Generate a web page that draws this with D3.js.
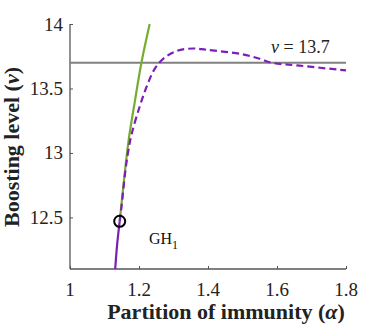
<!DOCTYPE html>
<html><head><meta charset="utf-8">
<script src="https://cdn.jsdelivr.net/npm/d3@7"></script>
<style>body{margin:0;background:#fff}svg{display:block}</style>
</head><body><svg id="c" width="383" height="326"></svg>
<script>
const xTicks=[1,1.2,1.4,1.6,1.8];
const yTicks=[12.5,13,13.5,14];
const greenAlpha=[1.144,1.157,1.170,1.188,1.207,1.231];
const greenNu=[12.47,12.8,13.1,13.4,13.7,14.0];
const solidAlpha=[1.131,1.137,1.144];
const solidNu=[12.1,12.3,12.47];
const dashAlpha=[1.144,1.150,1.160,1.168,1.178,1.202,1.223,1.245,1.270,1.308,1.356,1.395,1.5,1.55,1.584,1.666,1.8];
const dashNu=[12.47,12.6,12.85,13.0,13.14,13.36,13.52,13.65,13.73,13.79,13.81,13.80,13.765,13.73,13.70,13.677,13.64];
const refNu=13.7;
const ghPoint=[1.144,12.47];

const SERIF='"Liberation Serif","Times New Roman",serif';
const svg=d3.select("#c");
const x=d3.scaleLinear().domain([1,1.8]).range([70,346]);
const y=d3.scaleLinear().domain([12.1,14]).range([269,24]);
const axisCol="#555";

const xa=svg.append("g").attr("transform","translate(0,269)")
 .call(d3.axisBottom(x).tickValues(xTicks).tickFormat(()=>"").tickSizeInner(-3).tickSizeOuter(0));
const ya=svg.append("g").attr("transform","translate(70,0)")
 .call(d3.axisLeft(y).tickValues(yTicks).tickFormat(()=>"").tickSizeInner(-3).tickSizeOuter(0));
[xa,ya].forEach(g=>{g.select(".domain").attr("stroke",axisCol).attr("stroke-width",1.3);
 g.selectAll(".tick line").attr("stroke",axisCol);
 g.selectAll(".tick text").remove();});
ya.select(".domain").attr("d","M0,24V269");
xa.select(".domain").attr("d","M70,0H346");

const fmt=d3.format("");
svg.selectAll("text.xt").data(xTicks).enter().append("text").attr("class","xt")
 .attr("x",d=>x(d)).attr("y",296).attr("text-anchor","middle")
 .style("font-size","19px").style("font-family",SERIF).attr("fill","#222").text(d=>fmt(d));
svg.selectAll("text.yt").data(yTicks).enter().append("text").attr("class","yt")
 .attr("x",63).attr("y",d=>y(d)+6.5).attr("text-anchor","end")
 .style("font-size","19px").style("font-family",SERIF).attr("fill","#222").text(d=>fmt(d));

svg.append("line").attr("x1",x(1)).attr("x2",x(1.8)).attr("y1",y(refNu)).attr("y2",y(refNu))
 .attr("stroke","#808080").attr("stroke-width",2);

const zip=(a,b)=>a.map((v,i)=>[v,b[i]]);
const line=d3.line().x(d=>x(d[0])).y(d=>y(d[1])).curve(d3.curveCatmullRom);
svg.append("path").attr("d",line(zip(greenAlpha,greenNu))).attr("fill","none").attr("stroke","#77AC30").attr("stroke-width",2.2);
svg.append("path").attr("d",line(zip(solidAlpha,solidNu))).attr("fill","none").attr("stroke","#7B1FB8").attr("stroke-width",2.2);
svg.append("path").attr("d",line(zip(dashAlpha,dashNu)))
 .attr("fill","none").attr("stroke","#7B1FB8").attr("stroke-width",2.2).attr("stroke-dasharray","7,4");
svg.append("circle").attr("cx",x(ghPoint[0])).attr("cy",y(ghPoint[1])).attr("r",5.5)
 .attr("fill","none").attr("stroke","#000").attr("stroke-width",2);

const lab=svg.append("text").attr("x",271).attr("y",53).style("font-size","18px").style("font-family",SERIF).attr("fill","#222");
lab.append("tspan").style("font-style","italic").text("ν");
lab.append("tspan").text(" = 13.7");
const gh=svg.append("text").attr("x",149).attr("y",244).style("font-size","16px").style("font-family",SERIF).attr("fill","#111");
gh.append("tspan").text("GH");
gh.append("tspan").style("font-size","12px").attr("dy",5).text("1");

const xt=svg.append("text").attr("x",226).attr("y",319).attr("text-anchor","middle").style("font-size","22px").style("font-weight","bold").style("font-family",SERIF).attr("fill","#222");
xt.append("tspan").text("Partition of immunity (");
xt.append("tspan").style("font-style","italic").text("α");
xt.append("tspan").text(")");
const yt=svg.append("text").attr("transform","translate(19,147) rotate(-90)").attr("text-anchor","middle").style("font-size","22px").style("font-weight","bold").style("font-family",SERIF).attr("fill","#222");
yt.append("tspan").text("Boosting level (");
yt.append("tspan").style("font-style","italic").text("ν");
yt.append("tspan").text(")");
</script></body></html>
